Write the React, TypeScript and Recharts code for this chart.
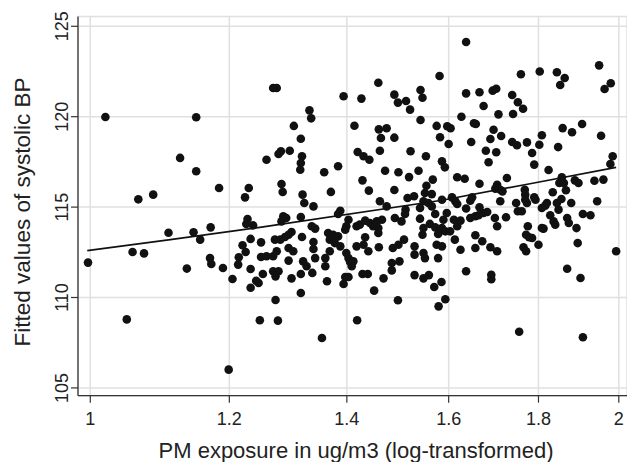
import React from 'react';
import { ScatterChart, Scatter, XAxis, YAxis, CartesianGrid } from 'recharts';

if (typeof document !== 'undefined') {
  document.body.style.margin = '0';
}

// PM exposure (x, log axis) and fitted systolic BP (y)
const pmExposure: number[] = [
  1.020, 1.149, 1.271, 1.277, 1.333, 1.336, 1.306, 1.318, 1.394, 1.414, 1.427, 1.459, 1.460, 1.475, 1.464, 1.490,
  1.490, 1.497, 1.513, 1.521, 1.542, 1.546, 1.542, 1.581, 1.575, 1.582, 1.637, 1.637, 1.666, 1.695, 1.703, 1.675,
  1.759, 1.739, 1.752, 1.764, 1.708, 1.741, 1.627, 1.597, 1.604, 1.654, 1.658, 1.697, 1.714, 1.690, 1.803, 1.844,
  1.863, 1.852, 1.808, 1.858, 1.881, 1.906, 1.949, 1.963, 1.979, 1.954, 0.997, 1.065, 1.086, 1.125, 1.149, 1.184,
  1.231, 1.225, 1.057, 1.073, 1.108, 1.145, 1.155, 1.171, 1.170, 1.172, 1.135, 1.190, 1.229, 1.227, 1.238, 1.234,
  1.221, 1.226, 1.215, 1.214, 1.251, 1.251, 1.234, 1.205, 1.243, 1.247, 1.234, 1.254, 1.049, 1.249, 1.199, 1.271,
  1.280, 1.275, 1.302, 1.318, 1.338, 1.364, 1.318, 1.275, 1.279, 1.355, 1.394, 1.397, 1.403, 1.429, 1.439, 1.451,
  1.469, 1.485, 1.419, 1.497, 1.530, 1.548, 1.559, 1.570, 1.585, 1.579, 1.593, 1.637, 1.692, 1.692, 1.755, 1.869,
  1.902, 1.908, 1.260, 1.280, 1.284, 1.299, 1.320, 1.318, 1.317, 1.359, 1.384, 1.285, 1.287, 1.321, 1.371, 1.324,
  1.340, 1.420, 1.431, 1.442, 1.462, 1.522, 1.553, 1.586, 1.472, 1.498, 1.519, 1.538, 1.429, 1.441, 1.490, 1.567,
  1.554, 1.462, 1.475, 1.516, 1.529, 1.551, 1.565, 1.548, 1.558, 1.565, 1.586, 1.388, 1.384, 1.288, 1.293, 1.285,
  1.318, 1.512, 1.511, 1.541, 1.541, 1.572, 1.403, 1.399, 1.397, 1.418, 1.424, 1.434, 1.443, 1.449, 1.456, 1.466,
  1.459, 1.459, 1.491, 1.504, 1.548, 1.561, 1.572, 1.582, 1.546, 1.578, 1.586, 1.337, 1.343, 1.302, 1.297, 1.291,
  1.283, 1.274, 1.320, 1.366, 1.375, 1.378, 1.384, 1.369, 1.378, 1.388, 1.340, 1.340, 1.297, 1.305, 1.277, 1.271,
  1.260, 1.322, 1.328, 1.297, 1.343, 1.361, 1.361, 1.369, 1.399, 1.403, 1.406, 1.412, 1.409, 1.418, 1.431, 1.434,
  1.440, 1.460, 1.487, 1.498, 1.509, 1.485, 1.500, 1.530, 1.530, 1.548, 1.551, 1.575, 1.586, 1.578, 1.600, 1.648,
  1.680, 1.703, 1.686, 1.739, 1.750, 1.773, 1.802, 1.785, 1.790, 1.847, 1.824, 1.984, 1.978, 1.592, 1.618, 1.634,
  1.666, 1.727, 1.705, 1.701, 1.712, 1.717, 1.768, 1.769, 1.856, 1.850, 1.861, 1.888, 1.897, 1.937, 1.960, 1.866,
  1.834, 1.607, 1.614, 1.618, 1.650, 1.646, 1.712, 1.748, 1.769, 1.773, 1.793, 1.790, 1.855, 1.879, 1.844, 1.944,
  1.820, 1.816, 1.808, 1.848, 1.637, 1.666, 1.596, 1.589, 1.611, 1.618, 1.625, 1.646, 1.657, 1.664, 1.675, 1.683,
  1.700, 1.725, 1.705, 1.752, 1.761, 1.828, 1.836, 1.840, 1.869, 1.873, 1.908, 1.927, 1.775, 1.808, 1.812, 1.892,
  1.593, 1.603, 1.613, 1.657, 1.672, 1.771, 1.778, 1.785, 1.800, 1.765, 1.771, 1.895, 1.625, 1.657, 1.690, 1.705,
  1.993,
];

const systolicBP: number[] = [
  119.98, 119.97, 121.59, 121.59, 120.35, 119.91, 119.49, 118.78, 121.13, 119.50, 121.00, 121.88, 119.30, 119.36, 118.82, 118.84,
  121.22, 120.78, 120.87, 120.39, 121.48, 121.05, 119.82, 122.25, 119.49, 118.86, 124.13, 121.29, 121.35, 121.44, 121.55, 120.59,
  122.35, 121.20, 120.80, 120.44, 120.13, 120.15, 120.00, 119.47, 119.36, 119.64, 119.60, 119.28, 118.93, 118.77, 122.50, 122.46,
  122.14, 121.75, 118.97, 119.37, 119.14, 119.60, 122.84, 121.53, 121.85, 118.95, 111.93, 115.43, 115.69, 117.72, 116.98, 116.06,
  116.06, 115.54, 112.52, 112.44, 113.58, 113.61, 113.20, 113.88, 112.18, 111.85, 111.60, 111.63, 114.34, 114.07, 113.99, 113.24,
  112.89, 112.52, 112.23, 111.82, 113.05, 112.24, 111.58, 111.02, 110.93, 110.80, 110.54, 111.30, 108.79, 108.74, 106.01, 111.45,
  111.45, 111.17, 111.06, 111.30, 111.36, 110.90, 110.25, 109.86, 108.72, 107.76, 110.75, 111.13, 111.13, 111.30, 111.30, 110.38,
  111.06, 111.50, 108.74, 109.85, 111.24, 111.06, 111.24, 110.58, 110.86, 109.51, 109.90, 111.45, 111.26, 111.01, 108.11, 111.59,
  111.08, 107.80, 117.62, 117.94, 118.09, 118.12, 117.81, 117.44, 117.07, 116.93, 117.26, 116.28, 115.84, 115.69, 115.84, 115.23,
  115.04, 118.05, 117.81, 117.62, 118.12, 118.09, 117.81, 117.53, 117.01, 116.93, 116.66, 117.01, 116.48, 115.91, 115.95, 116.52,
  116.18, 115.32, 115.04, 115.50, 115.60, 115.78, 115.72, 115.32, 115.23, 115.04, 115.41, 114.80, 114.62, 114.49, 114.40, 114.21,
  114.45, 114.86, 114.62, 114.95, 114.36, 114.62, 114.30, 113.94, 113.75, 113.94, 114.03, 114.25, 114.12, 113.94, 114.21, 114.30,
  113.84, 113.57, 114.40, 114.21, 113.84, 114.07, 113.88, 113.70, 113.47, 113.51, 113.84, 113.94, 113.81, 113.62, 113.47, 113.35,
  113.20, 113.20, 113.35, 113.57, 113.47, 113.29, 113.38, 113.20, 113.01, 112.83, 113.07, 112.68, 112.74, 112.56, 112.56, 112.28,
  112.28, 112.00, 111.73, 112.04, 112.18, 112.18, 111.73, 112.56, 112.46, 112.18, 111.96, 112.00, 111.73, 112.83, 112.92, 113.33,
  112.56, 112.78, 112.74, 112.92, 113.20, 111.91, 112.00, 112.83, 112.37, 112.46, 112.18, 112.92, 112.83, 112.18, 118.49, 118.60,
  118.12, 118.03, 117.48, 118.60, 118.42, 118.58, 118.45, 117.99, 117.35, 118.32, 117.05, 117.81, 117.38, 117.20, 116.65, 116.57,
  116.29, 116.61, 116.24, 116.02, 115.96, 115.87, 115.96, 115.69, 116.65, 116.33, 116.33, 116.48, 116.33, 116.46, 116.52, 115.93,
  115.82, 115.54, 115.32, 115.17, 115.54, 115.35, 115.32, 115.23, 115.41, 115.23, 115.41, 115.54, 115.45, 115.23, 115.23, 115.32,
  115.23, 115.08, 114.95, 114.86, 114.92, 114.99, 114.67, 114.30, 114.30, 113.94, 114.25, 114.40, 114.49, 114.55, 114.67, 114.73,
  114.40, 114.44, 113.94, 114.77, 114.77, 114.55, 114.21, 114.03, 114.40, 114.12, 114.62, 114.55, 113.94, 113.84, 113.81, 113.84,
  113.66, 113.66, 113.20, 113.44, 113.11, 113.47, 113.33, 113.29, 112.92, 112.78, 112.56, 113.01, 112.64, 112.74, 112.78, 112.56,
  112.56,
];

// Fitted regression line, read at a few x positions
const fitX: number[] = [0.996, 1.108, 1.249, 1.586, 1.777, 1.993];
const fitY: number[] = [112.59, 113.19, 113.88, 115.38, 116.28, 117.2];

const xTicks: number[] = [1, 1.2, 1.4, 1.6, 1.8, 2];
const yTicks: number[] = [105, 110, 115, 120, 125];

const points = pmExposure.map((x, i) => ({ x, y: systolicBP[i] }));
const fitLine = fitX.map((x, i) => ({ x, y: fitY[i] }));

const FONT = '"Liberation Sans", Arial, Helvetica, sans-serif';

const Dot = (props: any) => {
  const { cx, cy } = props;
  if (cx == null || cy == null) return <g />;
  return <circle cx={cx} cy={cy} r={4.3} fill="#111" />;
};

const NoDot = () => <g />;

const YTick = (props: any) => {
  const { x, y, payload } = props;
  return (
    <text
      x={x}
      y={y}
      transform={`rotate(-90, ${x}, ${y})`}
      textAnchor="middle"
      fontSize={18}
      fontFamily={FONT}
      fill="#222"
    >
      {payload.value}
    </text>
  );
};

const XTick = (props: any) => {
  const { x, y, payload } = props;
  return (
    <text x={x} y={y} dy={12.8} textAnchor="middle" fontSize={18} fontFamily={FONT} fill="#222">
      {payload.value}
    </text>
  );
};

export default function App() {
  return (
    <div style={{ width: 627, height: 462, background: '#fff' }}>
      <ScatterChart width={627} height={462} margin={{ top: 16.5, right: 0, bottom: 0, left: 0 }}>
        <CartesianGrid stroke="#e0e0e0" strokeWidth={1.5} />
        <XAxis
          type="number"
          dataKey="x"
          scale="log"
          domain={[0.984, 2.0216]}
          allowDataOverflow
          ticks={xTicks}
          height={66.3}
          tickSize={7}
          tickMargin={9}
          tick={<XTick />}
          axisLine={{ stroke: '#333', strokeWidth: 1.3 }}
          tickLine={{ stroke: '#333', strokeWidth: 1.2 }}
          label={{
            content: () => (
              <text x={356} y={458} textAnchor="middle" fontSize={22} fontFamily={FONT} fill="#222">
                PM exposure in ug/m3 (log-transformed)
              </text>
            ),
          }}
        />
        <YAxis
          type="number"
          dataKey="y"
          domain={[104.569, 125.542]}
          allowDataOverflow
          ticks={yTicks}
          width={78}
          tickSize={7}
          tickMargin={3}
          tick={<YTick />}
          axisLine={{ stroke: '#333', strokeWidth: 1.3 }}
          tickLine={{ stroke: '#333', strokeWidth: 1.2 }}
          label={{
            content: () => (
              <text
                x={30}
                y={212}
                transform="rotate(-90, 30, 212)"
                textAnchor="middle"
                fontSize={22.5}
                fontFamily={FONT}
                fill="#222"
              >
                Fitted values of systolic BP
              </text>
            ),
          }}
        />
        <Scatter data={points} shape={<Dot />} isAnimationActive={false} />
        <Scatter
          data={fitLine}
          shape={<NoDot />}
          line={{ stroke: '#111', strokeWidth: 1.7 }}
          isAnimationActive={false}
        />
      </ScatterChart>
    </div>
  );
}
